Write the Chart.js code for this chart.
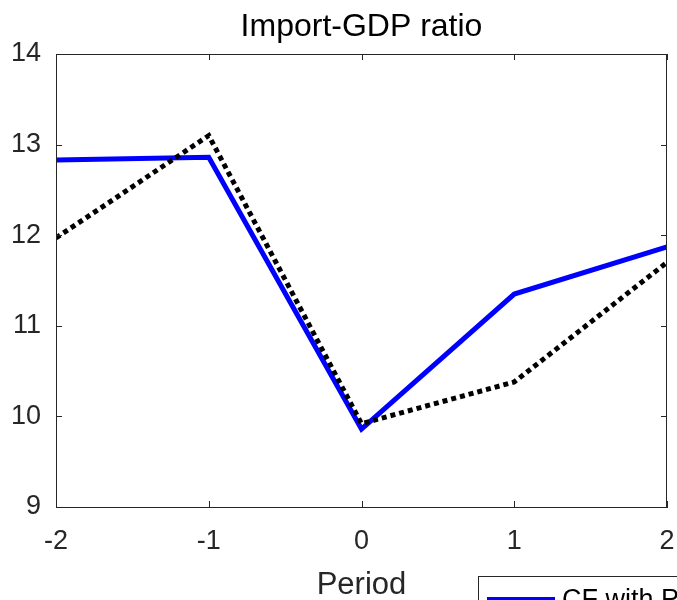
<!DOCTYPE html>
<html>
<head>
<meta charset="utf-8">
<script src="https://cdn.jsdelivr.net/npm/chart.js@4"></script>
<style>
  html, body { margin: 0; padding: 0; background: #fff; }
  #wrap { width: 677px; height: 600px; }
</style>
</head>
<body>
<div id="wrap"><canvas id="grafico"></canvas></div>
<script>
// datos del ratio importaciones / PIB
const periodos = [-2, -1, 0, 1, 2];
const serieCF = [12.83, 12.86, 9.86, 11.35, 11.87];
const serieBase = [11.97, 13.10, 9.92, 10.38, 11.70];
const ticksY = [9, 10, 11, 12, 13, 14];
const etiquetas = ["CF with PTA", "Baseline"];
const titulo = "Import-GDP ratio";

const FUENTE = "'Liberation Sans', Arial, Helvetica, sans-serif";
const EJE = "#262626";

// marco completo, ticks hacia adentro, titulo centrado sobre el area y leyenda
const marcoPlugin = {
    id: "marco",
    afterDatasetsDraw(chart) {
        const { ctx, chartArea: a, scales } = chart;
        ctx.save();
        ctx.strokeStyle = EJE;
        ctx.lineWidth = 1;
        ctx.strokeRect(a.left + 0.5, a.top + 0.5, a.right - a.left - 1, a.bottom - a.top);
        const lt = 6;
        ctx.beginPath();
        scales.y.ticks.forEach(t => {
            const py = Math.round(scales.y.getPixelForValue(t.value)) + 0.5;
            ctx.moveTo(a.left, py); ctx.lineTo(a.left + lt, py);
            ctx.moveTo(a.right, py); ctx.lineTo(a.right - lt, py);
        });
        scales.x.ticks.forEach(t => {
            const px = Math.round(scales.x.getPixelForValue(t.value)) + 0.5;
            ctx.moveTo(px, a.bottom); ctx.lineTo(px, a.bottom - lt);
            ctx.moveTo(px, a.top); ctx.lineTo(px, a.top + lt);
        });
        ctx.stroke();
        ctx.restore();
    },
    afterDraw(chart) {
        const { ctx, chartArea: a } = chart;
        ctx.save();
        ctx.fillStyle = "#000";
        ctx.font = "32px " + FUENTE;
        ctx.textAlign = "center";
        ctx.textBaseline = "middle";
        ctx.fillText(titulo, (a.left + a.right) / 2, 27.5);

        // leyenda en la esquina inferior derecha
        const ds = chart.data.datasets[0];
        ctx.textAlign = "left";
        ctx.fillStyle = "#fff";
        ctx.fillRect(478, 576, 260, 80);
        ctx.strokeStyle = EJE;
        ctx.lineWidth = 1;
        ctx.strokeRect(478.5, 576.5, 260, 80);
        ctx.strokeStyle = ds.borderColor;
        ctx.lineWidth = 5;
        ctx.beginPath();
        ctx.moveTo(487, 599.5);
        ctx.lineTo(555, 599.5);
        ctx.stroke();
        ctx.fillStyle = "#000";
        ctx.font = "27px " + FUENTE;
        ctx.fillText(ds.label, 562, 601);
        ctx.restore();
    }
};

new Chart(document.getElementById("grafico"), {
    type: "line",
    data: {
        datasets: [
            {
                label: etiquetas[0],
                data: periodos.map((p, i) => ({ x: p, y: serieCF[i] })),
                borderColor: "#0000ff",
                borderWidth: 5,
                pointRadius: 0,
                tension: 0,
                order: 1
            },
            {
                label: etiquetas[1],
                data: periodos.map((p, i) => ({ x: p, y: serieBase[i] })),
                borderColor: "#000000",
                borderWidth: 5,
                borderDash: [5, 4],
                borderCapStyle: "butt",
                pointRadius: 0,
                tension: 0,
                order: 0
            }
        ]
    },
    options: {
        responsive: true,
        maintainAspectRatio: false,
        animation: false,
        layout: { padding: { left: 0, right: 10, top: 54, bottom: 0 } },
        plugins: {
            legend: { display: false },
            tooltip: { enabled: false },
            title: { display: false }
        },
        scales: {
            x: {
                type: "linear",
                min: -2,
                max: 2,
                afterBuildTicks: s => { s.ticks = periodos.map(v => ({ value: v })); },
                afterFit: s => { s.height = 93; s.paddingLeft = 0; s.paddingRight = 0; },
                grid: { display: false, drawTicks: false },
                border: { display: true, color: EJE, width: 1 },
                ticks: {
                    color: "#262626",
                    padding: 18,
                    maxRotation: 0,
                    font: { family: FUENTE, size: 27 }
                },
                title: {
                    display: true,
                    text: "Period",
                    color: "#262626",
                    font: { family: FUENTE, size: 31, lineHeight: 1.2 },
                    padding: { top: 0, bottom: -3.6 }
                }
            },
            y: {
                min: 9,
                max: 14,
                afterBuildTicks: s => { s.ticks = ticksY.map(v => ({ value: v })); },
                afterFit: s => { s.width = 56; s.paddingTop = 0; s.paddingBottom = 0; },
                grid: { display: false, drawTicks: false },
                border: { display: true, color: EJE, width: 1 },
                ticks: {
                    color: "#262626",
                    padding: 15,
                    font: { family: FUENTE, size: 27 }
                }
            }
        }
    },
    plugins: [marcoPlugin]
});
</script>
</body>
</html>
